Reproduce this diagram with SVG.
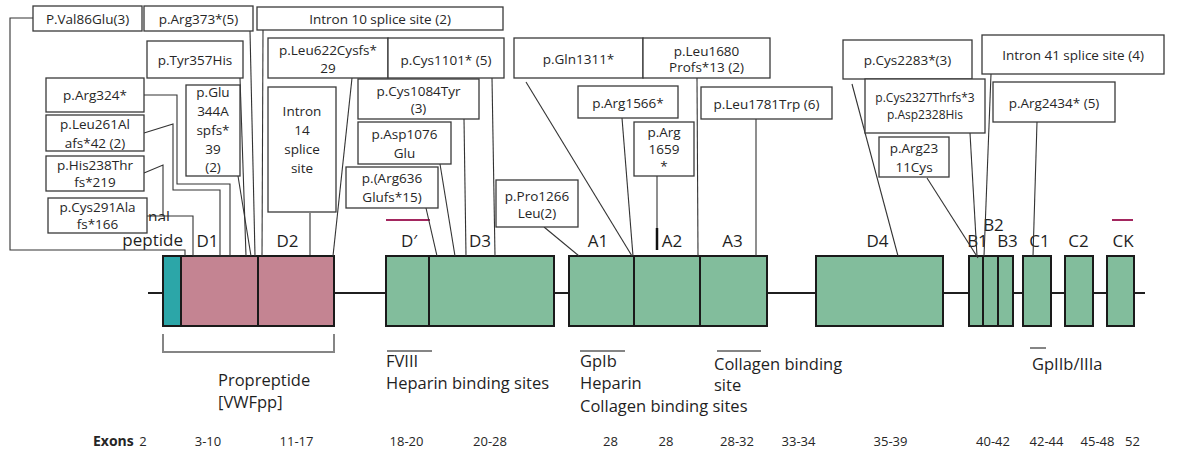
<svg xmlns="http://www.w3.org/2000/svg" width="1177" height="459" viewBox="0 0 1177 459">
<defs>
<style>
.bx{fill:#fff;stroke:#3a3a3a;stroke-width:1.3}
.t{font-family:"Open Sans","Liberation Sans",sans-serif;font-size:13.5px;fill:#262626;text-anchor:middle}
.ts{font-size:12px}
.lbl{font-family:"Open Sans","Liberation Sans",sans-serif;font-size:17px;fill:#1f1f1f}
.lb2{font-family:"Open Sans","Liberation Sans",sans-serif;font-size:16.5px;fill:#1f1f1f}
.mid{text-anchor:middle}
.dom{stroke:#1a1a1a;stroke-width:2}
.c{fill:none;stroke:#333;stroke-width:1.1}
.g{stroke:#858585;stroke-width:2;fill:none}
.m{stroke:#a3275f;stroke-width:2}
.ex{font-family:"Open Sans","Liberation Sans",sans-serif;font-size:13px;fill:#262626;text-anchor:middle}
</style>
<clipPath id="sigclip"><rect x="147.5" y="205" width="40" height="16"/></clipPath>
</defs>
<rect width="1177" height="459" fill="#fff"/>

<!-- backbone -->
<g id="backbone"><line x1="148" y1="293" x2="1145" y2="293" stroke="#1f1f1f" stroke-width="2.2"/></g>

<!-- domains -->
<g id="signal-peptide">
<rect class="dom" x="163" y="256" width="18" height="70" fill="#2ca6a8"/>
<text x="148" y="223" font-family="Open Sans, Liberation Sans, sans-serif" font-size="15.5" fill="#1f1f1f" clip-path="url(#sigclip)">nal</text>
<text class="lbl" x="183" y="246" text-anchor="end">peptide</text>
</g>
<g id="D1-D2">
<rect class="dom" x="181" y="256" width="153" height="70" fill="#c48492"/>
<line class="dom" x1="258" y1="256" x2="258" y2="326"/>
<text class="lbl mid" x="207.5" y="247">D1</text>
<text class="lbl mid" x="287.5" y="247">D2</text>
</g>
<g id="Dprime-D3">
<rect class="dom" x="386" y="256" width="168" height="70" fill="#82bd9c"/>
<line class="dom" x1="429" y1="256" x2="429" y2="326"/>
<line class="m" x1="386" y1="220" x2="430" y2="220"/>
<text class="lbl mid" x="409" y="247">D′</text>
<text class="lbl mid" x="480" y="247">D3</text>
</g>
<g id="A1-A3">
<rect class="dom" x="569" y="256" width="198" height="70" fill="#82bd9c"/>
<line class="dom" x1="634" y1="256" x2="634" y2="326"/>
<line class="dom" x1="700" y1="256" x2="700" y2="326"/>
<text class="lbl mid" x="598" y="247">A1</text>
<text class="lbl mid" x="672" y="247">A2</text>
<text class="lbl mid" x="732.5" y="247">A3</text>
</g>
<g id="D4">
<rect class="dom" x="816" y="256" width="127" height="70" fill="#82bd9c"/>
<text class="lbl mid" x="877.5" y="247">D4</text>
</g>
<g id="B1-B3">
<rect class="dom" x="969" y="256" width="44" height="70" fill="#82bd9c"/>
<line class="dom" x1="983" y1="256" x2="983" y2="326"/>
<line class="dom" x1="998" y1="256" x2="998" y2="326"/>
<text class="lbl mid" x="977.5" y="247">B1</text>
<text class="lbl mid" x="993.5" y="231">B2</text>
<text class="lbl mid" x="1007.5" y="247">B3</text>
</g>
<g id="C1">
<rect class="dom" x="1023" y="256" width="28" height="70" fill="#82bd9c"/>
<text class="lbl mid" x="1039.5" y="247">C1</text>
</g>
<g id="C2">
<rect class="dom" x="1065" y="256" width="28" height="70" fill="#82bd9c"/>
<text class="lbl mid" x="1078.5" y="247">C2</text>
</g>
<g id="CK">
<rect class="dom" x="1107" y="256" width="27" height="70" fill="#82bd9c"/>
<line class="m" x1="1112" y1="220" x2="1133" y2="220"/>
<text class="lbl mid" x="1123" y="247">CK</text>
</g>

<!-- connectors -->
<g id="connectors">
<polyline class="c" points="33,18 10,18 10,250 185,250 185,256"/>
<line class="c" x1="250" y1="31" x2="255" y2="256"/>
<line class="c" x1="263" y1="30" x2="262" y2="256"/>
<line class="c" x1="240" y1="78" x2="246" y2="256"/>
<line class="c" x1="238" y1="176" x2="251" y2="256"/>
<polyline class="c" points="144,95 177,95 177,184 230,184 230,256"/>
<polyline class="c" points="144,133 173,124 173,190 220,190 220,256"/>
<polyline class="c" points="144,173 163,165 163,216"/>
<polyline class="c" points="147,216 193,216 193,256"/>
<line class="c" x1="193" y1="256" x2="240" y2="256"/>
<line class="c" x1="310" y1="213" x2="310" y2="255"/>
<line class="c" x1="352" y1="78" x2="333" y2="256"/>
<line class="c" x1="426" y1="208" x2="437" y2="256"/>
<line class="c" x1="440" y1="164" x2="455" y2="256"/>
<line class="c" x1="464" y1="119" x2="466" y2="256"/>
<line class="c" x1="492" y1="78" x2="495" y2="256"/>
<line class="c" x1="544" y1="227" x2="579" y2="256"/>
<line class="c" x1="526" y1="82" x2="632" y2="256"/>
<line class="c" x1="622" y1="118" x2="633" y2="256"/>
<line class="c" x1="657" y1="176" x2="657" y2="228"/>
<line x1="657" y1="228" x2="657" y2="250" stroke="#111" stroke-width="2.5"/>
<line class="c" x1="697" y1="78" x2="698" y2="256"/>
<line class="c" x1="756" y1="119" x2="756" y2="256"/>
<line class="c" x1="852" y1="84" x2="898" y2="256"/>
<line class="c" x1="970" y1="133" x2="977" y2="256"/>
<line class="c" x1="927" y1="178" x2="978" y2="258"/>
<line class="c" x1="991" y1="74" x2="984" y2="256"/>
<line class="c" x1="1037" y1="122" x2="1033" y2="256"/>
</g>

<!-- mutation boxes -->
<g id="Val86Glu"><rect class="bx" x="33" y="6" width="109" height="25"/><text class="t" x="87.5" y="24">P.Val86Glu(3)</text></g>
<g id="Arg373"><rect class="bx" x="144" y="6" width="109" height="25"/><text class="t" x="198.5" y="24">p.Arg373*(5)</text></g>
<g id="Intron10"><rect class="bx" x="257" y="7" width="246" height="23"/><text class="t" x="380" y="24">Intron  10 splice site (2)</text></g>
<g id="Leu622"><rect class="bx" x="268" y="38" width="120" height="40"/><text class="t" x="328" y="55">p.Leu622Cysfs*</text><text class="t" x="328" y="73">29</text></g>
<g id="Cys1101"><rect class="bx" x="388" y="38" width="116" height="40"/><text class="t" x="446" y="65">p.Cys1101* (5)</text></g>
<g id="Tyr357"><rect class="bx" x="147" y="41" width="96" height="37"/><text class="t" x="195" y="65">p.Tyr357His</text></g>
<g id="Arg324"><rect class="bx" x="46" y="78" width="98" height="34"/><text class="t" x="95" y="100">p.Arg324*</text></g>
<g id="Leu261"><rect class="bx" x="46" y="115" width="98" height="36"/><text class="t" x="95" y="129">p.Leu261Al</text><text class="t" x="95" y="148">afs*42 (2)</text></g>
<g id="His238"><rect class="bx" x="46" y="156" width="98" height="35"/><text class="t" x="95" y="170">p.His238Thr</text><text class="t" x="95" y="187">fs*219</text></g>
<g id="Cys291"><rect class="bx" x="48" y="198" width="99" height="35"/><text class="t" x="97.5" y="212">p.Cys291Ala</text><text class="t" x="97.5" y="229">fs*166</text></g>
<g id="Glu344"><rect class="bx" x="186" y="85" width="54" height="91"/><text class="t" x="213" y="97">p.Glu</text><text class="t" x="213" y="116">344A</text><text class="t" x="213" y="135">spfs*</text><text class="t" x="213" y="154">39</text><text class="t" x="213" y="172">(2)</text></g>
<g id="Intron14"><rect class="bx" x="268" y="87" width="68" height="125"/><text class="t" x="302" y="116">Intron</text><text class="t" x="302" y="135">14</text><text class="t" x="302" y="154">splice</text><text class="t" x="302" y="173">site</text></g>
<g id="Cys1084"><rect class="bx" x="358" y="79" width="121" height="40"/><text class="t" x="418.5" y="96">p.Cys1084Tyr</text><text class="t" x="418.5" y="113">(3)</text></g>
<g id="Asp1076"><rect class="bx" x="358" y="122" width="93" height="42"/><text class="t" x="404.5" y="139">p.Asp1076</text><text class="t" x="404.5" y="158">Glu</text></g>
<g id="Arg636"><rect class="bx" x="346" y="167" width="92" height="41"/><text class="t" x="392" y="183">p.(Arg636</text><text class="t" x="392" y="202">Glufs*15)</text></g>
<g id="Pro1266"><rect class="bx" x="496" y="180" width="82" height="47"/><text class="t" x="537" y="201">p.Pro1266</text><text class="t" x="537" y="218">Leu(2)</text></g>
<g id="Gln1311"><rect class="bx" x="514" y="38" width="129" height="40"/><text class="t" x="578.5" y="64">p.Gln1311*</text></g>
<g id="Leu1680"><rect class="bx" x="643" y="38" width="127" height="40"/><text class="t" x="706.5" y="56">p.Leu1680</text><text class="t" x="706.5" y="72">Profs*13 (2)</text></g>
<g id="Arg1566"><rect class="bx" x="578" y="86" width="100" height="32"/><text class="t" x="628" y="108">p.Arg1566*</text></g>
<g id="Arg1659"><rect class="bx" x="634" y="122" width="60" height="54"/><text class="t" x="664" y="137">p.Arg</text><text class="t" x="664" y="154">1659</text><text class="t" x="664" y="171">*</text></g>
<g id="Leu1781"><rect class="bx" x="701" y="87" width="131" height="32"/><text class="t" x="766.5" y="109">p.Leu1781Trp (6)</text></g>
<g id="Cys2283"><rect class="bx" x="843" y="40" width="129" height="39"/><text class="t" x="907.5" y="65">p.Cys2283*(3)</text></g>
<g id="Intron41"><rect class="bx" x="982" y="35" width="182" height="39"/><text class="t" x="1073" y="60">Intron  41 splice site (4)</text></g>
<g id="Cys2327"><rect class="bx" x="865" y="79" width="120" height="54"/><text class="t ts" x="925" y="102">p.Cys2327Thrfs*3</text><text class="t ts" x="925" y="119">p.Asp2328His</text></g>
<g id="Arg2434"><rect class="bx" x="993" y="82" width="122" height="40"/><text class="t" x="1054" y="108">p.Arg2434*  (5)</text></g>
<g id="Arg2311"><rect class="bx" x="879" y="137" width="70" height="40"/><text class="t" x="914" y="153">p.Arg23</text><text class="t" x="914" y="172">11Cys</text></g>

<!-- binding sites / propeptide -->
<g id="propeptide">
<polyline class="g" points="163,334 163,352 334,352 334,334"/>
<text class="lb2" x="218" y="386">Propreptide</text>
<text class="lb2" x="218" y="408">[VWFpp]</text>
</g>
<g id="FVIII-site">
<line class="g" x1="387" y1="351" x2="432" y2="351"/>
<text class="lb2" x="386" y="367">FVIII</text>
<text class="lb2" x="386" y="389">Heparin binding sites</text>
</g>
<g id="GpIb-site">
<line class="g" x1="580" y1="351" x2="625" y2="351"/>
<text class="lb2" x="580" y="367">GpIb</text>
<text class="lb2" x="580" y="389">Heparin</text>
<text class="lb2" x="580" y="412">Collagen binding sites</text>
</g>
<g id="collagen-site">
<line class="g" x1="717" y1="351" x2="761" y2="351"/>
<text class="lb2" x="714" y="370">Collagen binding</text>
<text class="lb2" x="714" y="391">site</text>
</g>
<g id="GpIIb-site">
<line class="g" x1="1030" y1="348" x2="1046" y2="348"/>
<text class="lb2" x="1032" y="370">GpIIb/IIIa</text>
</g>

<!-- exons -->
<g id="exons">
<text x="93" y="446" font-family="Open Sans, Liberation Sans, sans-serif" font-size="14" font-weight="bold" fill="#262626">Exons</text>
<text class="ex" x="143" y="446" text-anchor="start">2</text>
<text class="ex" x="208" y="446">3-10</text>
<text class="ex" x="296.5" y="446">11-17</text>
<text class="ex" x="406.5" y="446">18-20</text>
<text class="ex" x="490" y="446">20-28</text>
<text class="ex" x="610.5" y="446">28</text>
<text class="ex" x="666" y="446">28</text>
<text class="ex" x="737" y="446">28-32</text>
<text class="ex" x="798.5" y="446">33-34</text>
<text class="ex" x="890.5" y="446">35-39</text>
<text class="ex" x="993" y="446">40-42</text>
<text class="ex" x="1046.5" y="446">42-44</text>
<text class="ex" x="1097.5" y="446">45-48</text>
<text class="ex" x="1132.5" y="446">52</text>
</g>
</svg>
